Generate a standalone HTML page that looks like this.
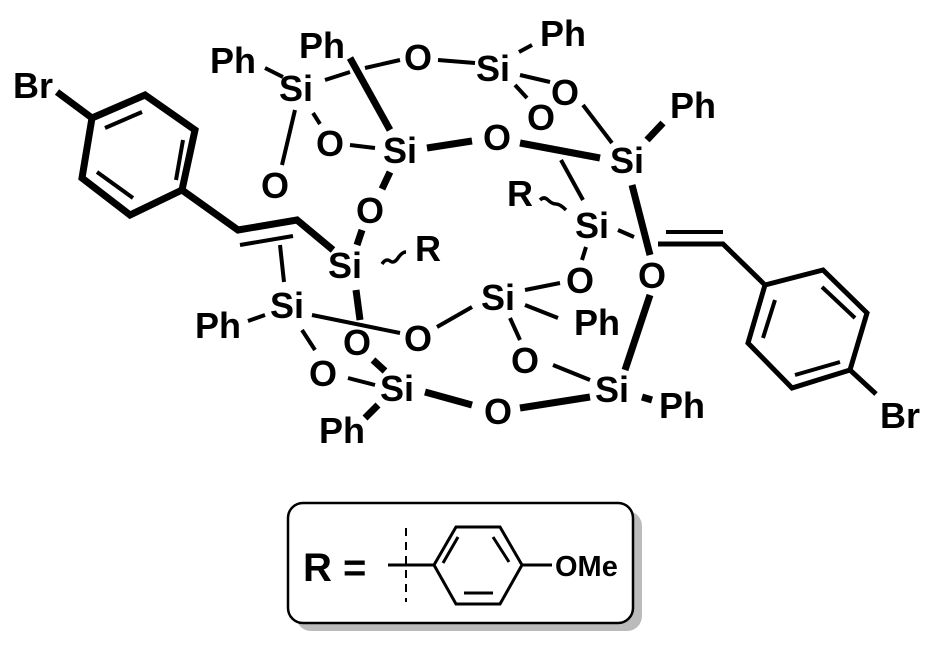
<!DOCTYPE html>
<html><head><meta charset="utf-8"><style>
html,body{margin:0;padding:0;background:#fff;}
svg{display:block;}
text{font-family:"Liberation Sans",Arial,sans-serif;font-weight:bold;font-size:36px;fill:#000;}
</style></head><body>
<svg width="929" height="645" viewBox="0 0 929 645" xmlns="http://www.w3.org/2000/svg">
<g stroke="#000" stroke-linecap="butt" fill="none">
<!-- left aryl -->
<g stroke-width="7">
<polygon points="92,118 145,95 195,130 182,190 130,215 82,178" stroke-linejoin="miter"/>
<line x1="57" y1="92" x2="92" y2="118"/>
<polyline points="182,190 238,230 297,220 333,250"/>
</g>
<g stroke-width="4">
<line x1="105" y1="128" x2="142" y2="112"/>
<line x1="183" y1="140" x2="176" y2="180"/>
<line x1="97" y1="172" x2="133" y2="198"/>
<line x1="240" y1="245" x2="293" y2="236"/>
</g>
<!-- thin bonds -->
<g stroke-width="4">
<line x1="265" y1="68" x2="283" y2="77"/>
<line x1="325" y1="80" x2="350" y2="72"/>
<line x1="365" y1="68" x2="400" y2="60"/>
<line x1="313" y1="113" x2="320" y2="124"/>
<line x1="350" y1="145" x2="375" y2="148"/>
<line x1="295" y1="110" x2="282" y2="165"/>
<line x1="280" y1="245" x2="284" y2="282"/>
<line x1="248" y1="321" x2="265" y2="315"/>
<line x1="302" y1="330" x2="315" y2="350"/>
<line x1="348" y1="378" x2="375" y2="385"/>
<line x1="312" y1="315" x2="400" y2="333"/>
<line x1="438" y1="60" x2="475" y2="63"/>
<line x1="520" y1="75" x2="550" y2="82"/>
<line x1="515" y1="85" x2="527" y2="98"/>
<line x1="519" y1="52" x2="532" y2="45"/>
<line x1="583" y1="105" x2="612" y2="143"/>
<line x1="561" y1="160" x2="583" y2="200"/>
<line x1="618" y1="230" x2="634" y2="237"/>
<line x1="586" y1="247" x2="582" y2="260"/>
<line x1="560" y1="283" x2="525" y2="290"/>
<line x1="525" y1="305" x2="558" y2="318"/>
<line x1="472" y1="307" x2="437" y2="327"/>
<line x1="510" y1="318" x2="520" y2="340"/>
<line x1="553" y1="365" x2="590" y2="380"/>
<line x1="666" y1="232" x2="723" y2="232"/>
</g>
<!-- thick bonds -->
<g stroke-width="7">
<line x1="350" y1="58" x2="390" y2="130"/>
<line x1="427" y1="148" x2="472" y2="141"/>
<line x1="390" y1="172" x2="382" y2="189"/>
<line x1="362" y1="230" x2="357" y2="245"/>
<line x1="356" y1="290" x2="360" y2="320"/>
<line x1="373" y1="360" x2="385" y2="371"/>
<line x1="365" y1="418" x2="378" y2="405"/>
<line x1="425" y1="392" x2="472" y2="405"/>
<line x1="520" y1="143" x2="600" y2="158"/>
<line x1="647" y1="140" x2="663" y2="123"/>
<line x1="632" y1="185" x2="650" y2="255"/>
<line x1="650" y1="295" x2="625" y2="370"/>
<line x1="520" y1="408" x2="590" y2="397"/>
<line x1="642" y1="397" x2="652" y2="400"/>
</g>
<!-- wavy bonds -->
<path d="M382,264 q4,-6 8,-3 t8,-3 t8,-6" stroke-width="3.5"/>
<path d="M540,200 q4,-4 8,0 t8,4 t10,6" stroke-width="3.5"/>
<!-- right vinyl & aryl -->
<g stroke-width="5">
<polyline points="658,244 723,244 765,285"/>
<polygon points="765,285 823,270 867,313 850,370 792,388 748,343"/>
<line x1="850" y1="370" x2="876" y2="394"/>
</g>
<g stroke-width="4">
<line x1="775" y1="300" x2="763" y2="338"/>
<line x1="822" y1="287" x2="855" y2="318"/>
<line x1="795" y1="375" x2="840" y2="362"/>
</g>
</g>
<g text-anchor="middle">
<text x="33" y="98">Br</text>
<text x="233" y="73">Ph</text>
<text x="322" y="58">Ph</text>
<text x="296" y="101">Si</text>
<text x="418" y="70">O</text>
<text x="330" y="156">O</text>
<text x="400" y="163">Si</text>
<text x="275" y="198">O</text>
<text x="370" y="223">O</text>
<text x="345" y="278">Si</text>
<text x="428" y="261">R</text>
<text x="287" y="318">Si</text>
<text x="218" y="338">Ph</text>
<text x="357" y="355">O</text>
<text x="418" y="351">O</text>
<text x="323" y="386">O</text>
<text x="397" y="401">Si</text>
<text x="342" y="443">Ph</text>
<text x="498" y="424">O</text>
<text x="493" y="81">Si</text>
<text x="563" y="46">Ph</text>
<text x="565" y="105">O</text>
<text x="541" y="130">O</text>
<text x="497" y="150">O</text>
<text x="627" y="173">Si</text>
<text x="693" y="118">Ph</text>
<text x="520" y="206">R</text>
<text x="592" y="238">Si</text>
<text x="652" y="288">O</text>
<text x="580" y="293">O</text>
<text x="498" y="310">Si</text>
<text x="597" y="335">Ph</text>
<text x="525" y="373">O</text>
<text x="612" y="402">Si</text>
<text x="682" y="418">Ph</text>
<text x="900" y="428">Br</text>
</g>
<!-- R box -->
<rect x="296" y="511" width="346" height="120" rx="15" fill="#bbb"/>
<rect x="288" y="503" width="345" height="120" rx="15" fill="#fff" stroke="#000" stroke-width="2.5"/>
<text x="303" y="581" style="font-size:40px">R =</text>
<g stroke="#000" fill="none" stroke-width="3">
<line x1="388" y1="565" x2="434" y2="565"/>
<line x1="406" y1="528" x2="406" y2="602" stroke-width="2" stroke-dasharray="8,6"/>
<polygon points="434,565 456,527 500,527 522,565 500,604 456,604"/>
<line x1="522" y1="565" x2="552" y2="565"/>
<line x1="458" y1="537" x2="443" y2="563"/>
<line x1="493" y1="537" x2="509" y2="562"/>
<line x1="464" y1="593" x2="493" y2="593"/>
</g>
<text x="555" y="576" style="font-size:29px">OMe</text>
</svg>
</body></html>
